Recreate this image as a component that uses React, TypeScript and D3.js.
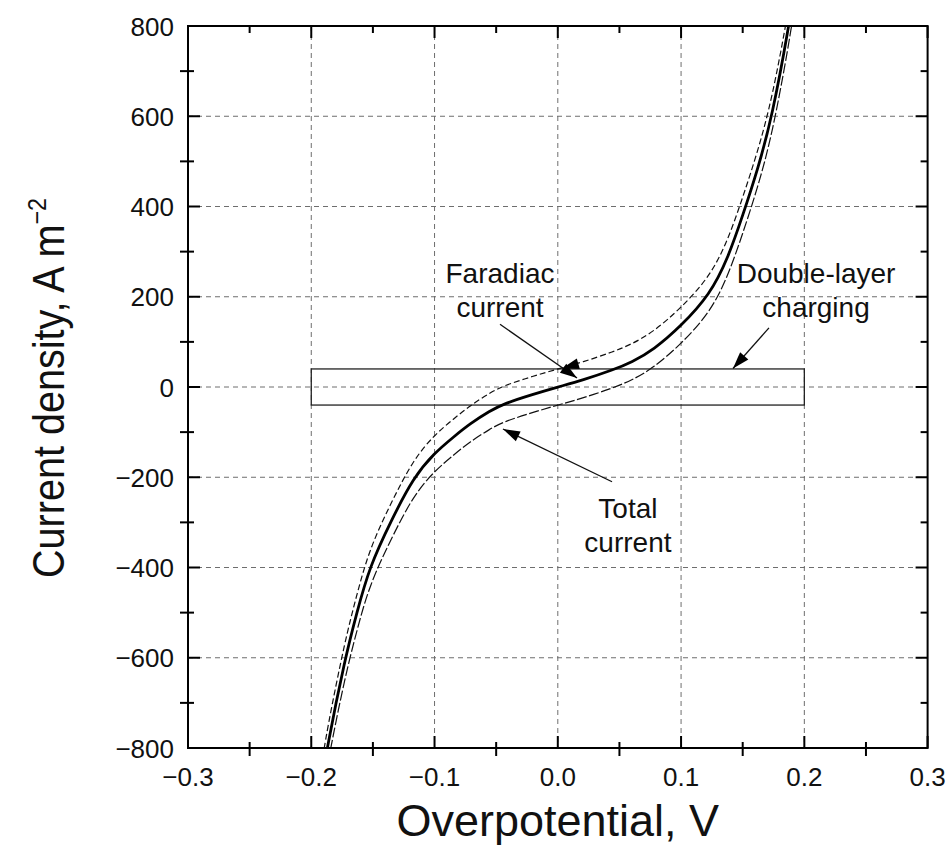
import React from 'react';
import * as d3 from 'd3';

// ---------- data ----------
const faradaicEta = [-0.193, -0.1873, -0.1725, -0.163, -0.153, -0.135, -0.117, -0.1, -0.0847, -0.0711, -0.055, -0.044, -0.02, 0, 0.02, 0.045, 0.06, 0.0775, 0.1, 0.1235, 0.138, 0.15, 0.162, 0.174, 0.1875, 0.193];
const faradaicJ = [-900, -800, -600, -500, -400, -295, -200, -146, -111, -81, -53, -37, -16, 0, 15, 38, 55, 82, 135, 205, 285, 380, 480, 600, 800, 900];

const upperEta = [-0.193, -0.1873, -0.1725, -0.163, -0.153, -0.135, -0.117, -0.1, -0.0847, -0.0711, -0.055, -0.044, -0.02, 0, 0.02, 0.045, 0.06, 0.0775, 0.1, 0.1235, 0.138, 0.15, 0.162, 0.174, 0.1875, 0.193];
const upperJ = [-860, -760, -560, -460, -360, -255, -160, -106, -71, -41, -13, 3, 24, 40, 55, 78, 95, 122, 175, 245, 325, 420, 520, 640, 840, 940];

const lowerEta = [-0.193, -0.1873, -0.1725, -0.163, -0.153, -0.135, -0.117, -0.1, -0.0847, -0.0711, -0.055, -0.044, -0.02, 0, 0.02, 0.045, 0.06, 0.0775, 0.1, 0.1235, 0.138, 0.15, 0.162, 0.174, 0.1875, 0.193];
const lowerJ = [-940, -840, -640, -540, -440, -335, -240, -186, -151, -121, -93, -77, -56, -40, -25, -2, 15, 42, 95, 165, 245, 340, 440, 560, 760, 860];

const boxEta = [-0.2, 0.2];
const boxJ = [-40, 40];

const xTicks = [-0.3, -0.2, -0.1, 0.0, 0.1, 0.2, 0.3];
const xTickLabels = ['\u22120.3', '\u22120.2', '\u22120.1', '0.0', '0.1', '0.2', '0.3'];
const xMinor = [-0.25, -0.15, -0.05, 0.05, 0.15, 0.25];
const yTicks = [-800, -600, -400, -200, 0, 200, 400, 600, 800];
const yTickLabels = ['\u2212800', '\u2212600', '\u2212400', '\u2212200', '0', '200', '400', '600', '800'];
const yMinor = [-700, -500, -300, -100, 100, 300, 500, 700];

// annotations in data units
const labelFaradaic = { eta: -0.0469, j1: 230, j2: 155, lines: ['Faradiac', 'current'] };
const labelDouble = { eta: 0.2095, j1: 230, j2: 155, lines: ['Double-layer', 'charging'] };
const labelTotal = { eta: 0.0569, j1: -290, j2: -366, lines: ['Total', 'current'] };
const arrows = [
  { from: [-0.0469, 139], to: [0.0156, 20] },
  { from: [0.1713, 131], to: [0.1421, 41] },
  { from: [0.044, -210], to: [-0.0445, -93] },
];
const scanArrow = { from: [0.03, 62], to: [0.0034, 41] };

// ---------- layout ----------
const W = 952, H = 860;
const X0 = 188, X1 = 927.6, Y0 = 26, Y1 = 748;
const FONT = 'Liberation Sans, Arial, Helvetica, sans-serif';

const x = d3.scaleLinear().domain([-0.3, 0.3]).range([X0, X1]);
const y = d3.scaleLinear().domain([-800, 800]).range([Y1, Y0]);

const zip = (a: number[], b: number[]) => a.map((v, i) => [v, b[i]] as [number, number]);
const line = d3.line<[number, number]>().x(d => x(d[0])).y(d => y(d[1])).curve(d3.curveBasis);

function head(from: number[], to: number[], L = 17, w = 5.5) {
  const tx = x(to[0]), ty = y(to[1]);
  const fx = x(from[0]), fy = y(from[1]);
  const dx = tx - fx, dy = ty - fy;
  const len = Math.hypot(dx, dy);
  const ux = dx / len, uy = dy / len;
  const bx = tx - ux * L, by = ty - uy * L;
  const nx = -uy, ny = ux;
  return `${tx},${ty} ${bx + nx * w},${by + ny * w} ${bx - nx * w},${by - ny * w}`;
}

export default function App() {
  return (
    <svg width={W} height={H} style={{ position: 'absolute', left: 0, top: 0, background: '#fff' }} fontFamily={FONT}>
      <defs>
        <clipPath id="plot">
          <rect x={X0} y={Y0} width={X1 - X0} height={Y1 - Y0} />
        </clipPath>
      </defs>
      <rect x={0} y={0} width={W} height={H} fill="#fff" />
      {/* grid */}
      <g stroke="#6e6e6e" strokeWidth={1} strokeDasharray="5,4" fill="none">
        {xTicks.slice(1, -1).map(t => (
          <line key={'gx' + t} x1={x(t)} x2={x(t)} y1={Y0} y2={Y1} />
        ))}
        {yTicks.slice(1, -1).map(t => (
          <line key={'gy' + t} x1={X0} x2={X1} y1={y(t)} y2={y(t)} />
        ))}
      </g>
      {/* double-layer box */}
      <rect x={x(boxEta[0])} y={y(boxJ[1])} width={x(boxEta[1]) - x(boxEta[0])} height={y(boxJ[0]) - y(boxJ[1])}
        fill="none" stroke="#222" strokeWidth={1.3} />
      {/* curves */}
      <g clipPath="url(#plot)" fill="none">
        <path d={line(zip(upperEta, upperJ)) || ''} stroke="#111" strokeWidth={1.2} strokeDasharray="6,3" />
        <path d={line(zip(lowerEta, lowerJ)) || ''} stroke="#111" strokeWidth={1.2} strokeDasharray="10,2.5" />
        <path d={line(zip(faradaicEta, faradaicJ)) || ''} stroke="#000" strokeWidth={2.8} />
      </g>
      {/* arrows */}
      <g stroke="#111" strokeWidth={1.3}>
        {arrows.map((a, i) => (
          <g key={'a' + i}>
            <line x1={x(a.from[0])} y1={y(a.from[1])} x2={x(a.to[0])} y2={y(a.to[1])} />
            <polygon points={head(a.from, a.to)} fill="#000" stroke="none" />
          </g>
        ))}
        <polygon points={head(scanArrow.from, scanArrow.to)} fill="#000" stroke="none" />
      </g>
      {/* labels */}
      <g fontSize={28} textAnchor="middle" fill="#111">
        {[labelFaradaic, labelDouble, labelTotal].map((l, i) => (
          <g key={'l' + i}>
            <text x={x(l.eta)} y={y(l.j1)}>{l.lines[0]}</text>
            <text x={x(l.eta)} y={y(l.j2)}>{l.lines[1]}</text>
          </g>
        ))}
      </g>
      {/* ticks */}
      <g stroke="#000" strokeWidth={2}>
        {xTicks.map(t => (
          <g key={'tx' + t}>
            <line x1={x(t)} x2={x(t)} y1={Y1} y2={Y1 - 12} />
            <line x1={x(t)} x2={x(t)} y1={Y0} y2={Y0 + 12} />
          </g>
        ))}
        {xMinor.map(t => (
          <g key={'mx' + t}>
            <line x1={x(t)} x2={x(t)} y1={Y1 - 6} y2={Y1 + 8} />
            <line x1={x(t)} x2={x(t)} y1={Y0} y2={Y0 + 7} />
          </g>
        ))}
        {yTicks.map(t => (
          <g key={'ty' + t}>
            <line x1={X0} x2={X0 + 12} y1={y(t)} y2={y(t)} />
            <line x1={X1} x2={X1 - 12} y1={y(t)} y2={y(t)} />
          </g>
        ))}
        {yMinor.map(t => (
          <g key={'my' + t}>
            <line x1={X0 - 8} x2={X0 + 6} y1={y(t)} y2={y(t)} />
            <line x1={X1} x2={X1 - 7} y1={y(t)} y2={y(t)} />
          </g>
        ))}
      </g>
      {/* frame */}
      <rect x={X0} y={Y0} width={X1 - X0} height={Y1 - Y0} fill="none" stroke="#000" strokeWidth={2} />
      {/* tick labels */}
      <g fontSize={26} fill="#111">
        {xTicks.map((t, i) => (
          <text key={'xl' + t} x={x(t)} y={Y1 + 38} textAnchor="middle">{xTickLabels[i]}</text>
        ))}
        {yTicks.map((t, i) => (
          <text key={'yl' + t} x={X0 - 14} y={y(t) + 9.5} textAnchor="end">{yTickLabels[i]}</text>
        ))}
      </g>
      {/* axis titles */}
      <text x={(X0 + X1) / 2} y={836} fontSize={45} textAnchor="middle" fill="#111">Overpotential, V</text>
      <text transform={`translate(64,388) rotate(-90) scale(0.9,1)`} fontSize={44} textAnchor="middle" fill="#111">
        Current density, A m<tspan dy={-18} fontSize={26}>{'\u22122'}</tspan>
      </text>
    </svg>
  );
}
